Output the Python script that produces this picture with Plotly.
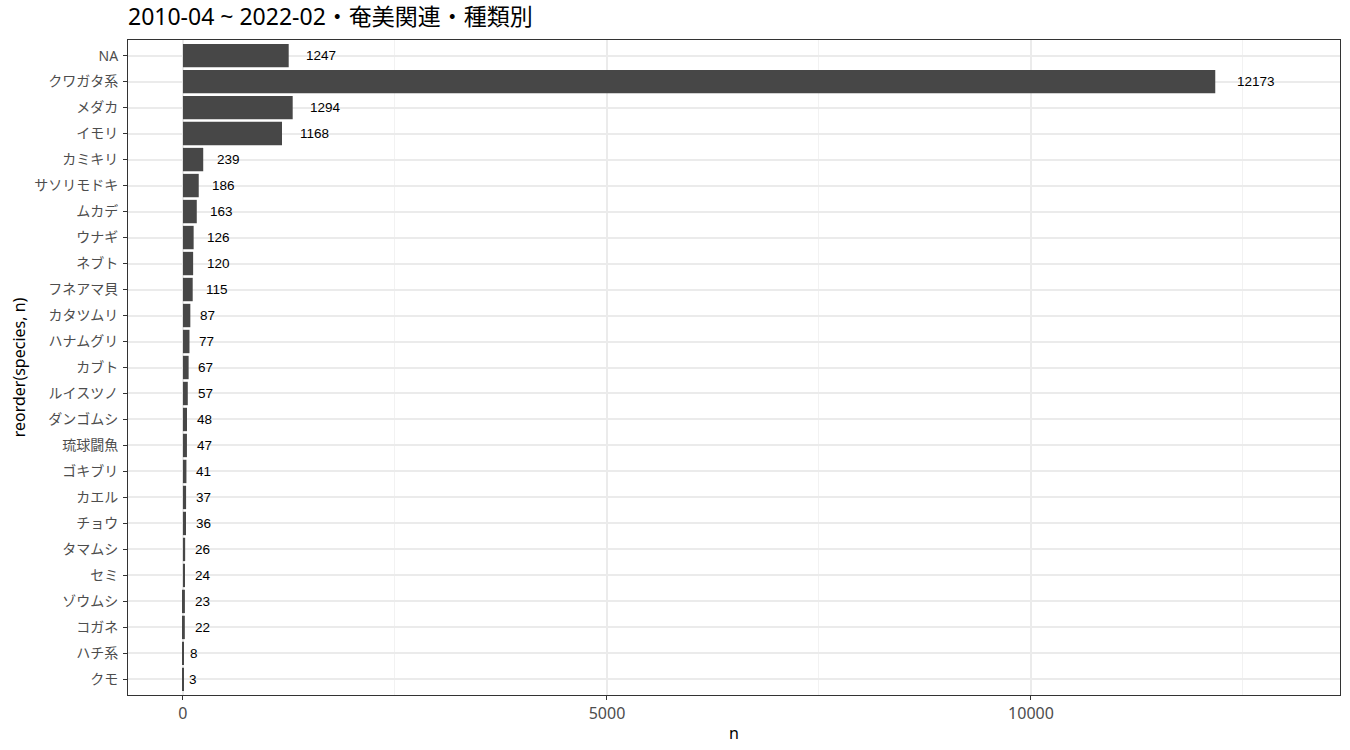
import plotly.graph_objects as go

species = ["NA", "クワガタ系", "メダカ", "イモリ", "カミキリ", "サソリモドキ", "ムカデ", "ウナギ",
           "ネブト", "フネアマ貝", "カタツムリ", "ハナムグリ", "カブト", "ルイスツノ", "ダンゴムシ",
           "琉球闘魚", "ゴキブリ", "カエル", "チョウ", "タマムシ", "セミ", "ゾウムシ", "コガネ",
           "ハチ系", "クモ"]
counts = [1247, 12173, 1294, 1168, 239, 186, 163, 126, 120, 115, 87, 77, 67, 57, 48, 47, 41,
          37, 36, 26, 24, 23, 22, 8, 3]
x_ticks = [0, 5000, 10000]
x_minor = [2500, 7500, 12500]

JP = "Noto Sans, Noto Sans CJK JP, sans-serif"
NUM = "Liberation Sans, Arial, sans-serif"
DIGIT_W = 7.5  # approx px width of one digit at 13.5px

fig = go.Figure()
fig.add_trace(go.Bar(
    x=counts, y=species, orientation="h",
    marker=dict(color="#474747", line=dict(width=0)),
    width=0.9, hoverinfo="x+y",
))

for s, n in zip(species, counts):
    label = str(n)
    fig.add_annotation(
        x=n, y=s, text=label, showarrow=False,
        xanchor="left", yanchor="middle",
        xshift=0.52 * DIGIT_W * len(label),
        font=dict(family=NUM, size=13.5, color="#000000"),
    )

fig.update_layout(
    width=1350, height=750,
    margin=dict(l=128, r=10, t=40, b=55),
    plot_bgcolor="white", paper_bgcolor="white",
    showlegend=False,
    bargap=0.1,
    title=dict(text="2010-04 ~ 2022-02・奄美関連・種類別", x=128 / 1350, xanchor="left",
               y=1 - 17 / 750, yanchor="middle",
               font=dict(family=JP, size=23, color="#000000")),
)

fig.update_xaxes(
    range=[-648, 13644], tickvals=x_ticks, ticktext=[str(v) for v in x_ticks],
    showgrid=True, gridcolor="#EBEBEB", gridwidth=1.5,
    minor=dict(tickvals=x_minor, showgrid=True, gridcolor="#F2F2F2", gridwidth=1, ticks=""),
    zeroline=False,
    showline=True, linecolor="#333333", linewidth=1, mirror=True,
    ticks="outside", ticklen=4, tickcolor="#333333", tickwidth=1,
    tickfont=dict(family=JP, size=16, color="#4D4D4D"),
    title=dict(text="n", font=dict(family=JP, size=16, color="#000000"), standoff=4),
)
fig.update_yaxes(
    type="category", categoryorder="array", categoryarray=species,
    range=[24.6, -0.6],
    showgrid=True, gridcolor="#EBEBEB", gridwidth=1.5,
    zeroline=False,
    showline=True, linecolor="#333333", linewidth=1, mirror=True,
    ticks="outside", ticklen=4, tickcolor="#333333", tickwidth=1,
    ticklabelstandoff=2,
    tickfont=dict(family=JP, size=14, color="#4D4D4D"),
    title=dict(text="reorder(species, n)", font=dict(family=JP, size=16, color="#000000"),
               standoff=4),
)

fig.write_html("out.html")
